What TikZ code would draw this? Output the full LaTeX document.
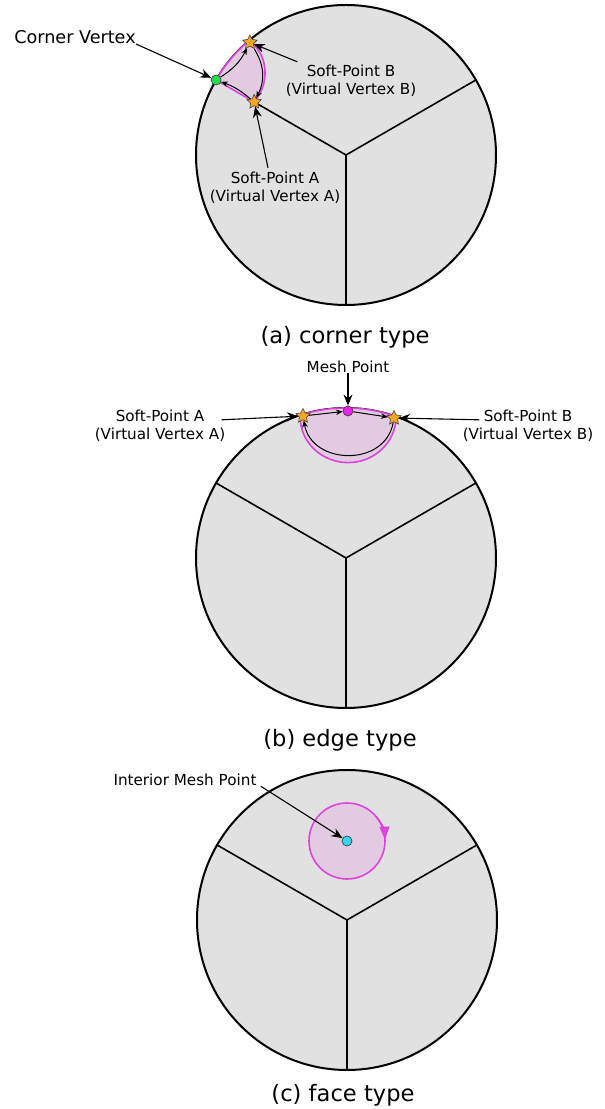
\documentclass[tikz,border=0pt]{standalone}
\usepackage{fontspec}
\setmainfont{DejaVu Sans}
\usepackage{xcolor}
\usetikzlibrary{shapes.geometric,arrows.meta,positioning,calc}
\definecolor{diskgray}{HTML}{E1E1E1}
\definecolor{patchpink}{HTML}{E2CBE1}
\definecolor{edgemag}{HTML}{DD44DD}
\definecolor{ptmag}{HTML}{F020F0}
\definecolor{ptgreen}{HTML}{22E04A}
\definecolor{ptcyan}{HTML}{33D8F0}
\definecolor{starorange}{HTML}{F6A625}

\begin{document}
\begin{tikzpicture}[
  x=0.5pt, y=0.5pt,
  disk/.style={fill=diskgray, draw=black, line width=1pt},
  spoke/.style={draw=black, line width=0.8pt},
  patch/.style={fill=patchpink, draw=edgemag, line width=0.8pt},
  softpt/.style={star, star points=5, star point ratio=2, minimum size=7.5pt,
                 inner sep=0pt, fill=starorange, draw=black!75, line width=0.3pt},
  meshpt/.style={circle, minimum size=5pt, inner sep=0pt, draw=black!75, line width=0.35pt},
  lbl/.style={font=\fontsize{7.6}{9}\selectfont, align=center, inner sep=0pt},
  caption/.style={font=\fontsize{11.3}{13.5}\selectfont, inner sep=0pt},
  pointer/.style={-{Stealth[length=5.5pt,width=4.5pt]}, line width=0.55pt},
  loopflow/.style={-{Stealth[length=3.4pt,width=2.8pt]}, line width=0.5pt}
]
\useasboundingbox (0,0) rectangle (605,1109);

% (a) corner type
\coordinate (ja) at (346,954);
\path[disk] (ja) circle (150);
\coordinate (cva) at ($(ja)+(150:150)$);
\coordinate (spaa) at ($(ja)+(150:106)$);
\coordinate (spba) at ($(ja)+(130.5:148)$);
\draw[spoke] (ja) -- (spaa);
\draw[spoke] (ja) -- +(30:150);
\draw[spoke] (ja) -- +(270:150);
\path[patch] (cva) arc[start angle=150, end angle=130.5, radius=150]
  .. controls +(20,-12) and +(16,18) .. (spaa) -- cycle;

\node[meshpt, fill=ptgreen] (cv) at (cva) {};
\node[softpt] (spa) at (spaa) {};
\node[softpt] (spb) at (spba) {};
\draw[loopflow] (cv) to[bend right=15] (spb);
\draw[loopflow] (spb) to[bend left=30] (spa);
\draw[loopflow] (spa) to[bend right=10] (cv);

\node[font=\fontsize{8.8}{10.5}\selectfont, inner sep=0pt] (cvlbl) at (75,1072) {Corner Vertex};
\draw[pointer] (cvlbl.south east) -- (cv);
\node[lbl] (spblbl) at (351,1028) {Soft-Point B\\(Virtual Vertex B)};
\draw[pointer] ($(spblbl.north west)+(12,3)$) -- (spb);
\node[lbl] (spalbl) at (275,921) {Soft-Point A\\(Virtual Vertex A)};
\draw[pointer] ($(spalbl.north)+(-7,4)$) -- (spa);
\node[caption] (capa) at (345,772) {(a) corner type};

% (b) edge type
\coordinate (jb) at (346,551);
\path[disk] (jb) circle (150);
\draw[spoke] (jb) -- +(150:150);
\draw[spoke] (jb) -- +(30:150);
\draw[spoke] (jb) -- +(270:150);
\path[patch] ($(jb)+(107.9:150)$) arc[start angle=107.9, end angle=70.5, radius=150]
  arc[start angle=0, end angle=-180, x radius=48, y radius=46] -- cycle;

\node[softpt] (spa2) at (303,693) {};
\node[softpt] (spb2) at (394,691) {};
\node[meshpt, fill=ptmag] (mp) at (348,698) {};
\draw[loopflow] (spa2) -- (mp);
\draw[loopflow] (mp) -- (spb2);
\draw[loopflow] (spb2) to[out=-100, in=-80, looseness=1.3] (spa2);

\node[lbl] (mplbl) at (348,742) {Mesh Point};
\draw[pointer] (mplbl.south) -- (mp);
\node[lbl] (spa2lbl) at (160,683) {Soft-Point A\\(Virtual Vertex A)};
\draw[pointer] ($(spa2lbl.north east)+(-4,-10)$) -- (spa2);
\node[lbl] (spb2lbl) at (528,683) {Soft-Point B\\(Virtual Vertex B)};
\draw[pointer] ($(spb2lbl.north west)+(17,-10)$) -- (spb2);
\node[caption] (capb) at (340,369) {(b) edge type};

% (c) face type
\coordinate (jc) at (347,189);
\path[disk] (jc) circle (150);
\draw[spoke] (jc) -- +(150:150);
\draw[spoke] (jc) -- +(30:150);
\draw[spoke] (jc) -- +(270:150);
\coordinate (impa) at (347,268);
\path[patch] (impa) circle (38);
\draw[edgemag, line width=0.8pt, -{Triangle[length=6.5pt,width=5pt]}]
  ($(impa)+(40:38)$) arc[start angle=40, end angle=2, radius=38];

\node[meshpt, fill=ptcyan] (imp) at (impa) {};
\node[lbl] (implbl) at (185,329) {Interior Mesh Point};
\draw[pointer] ($(implbl.south east)+(4,0)$) -- (imp);
\node[caption] (capc) at (343,14) {(c) face type};

\end{tikzpicture}
\end{document}
